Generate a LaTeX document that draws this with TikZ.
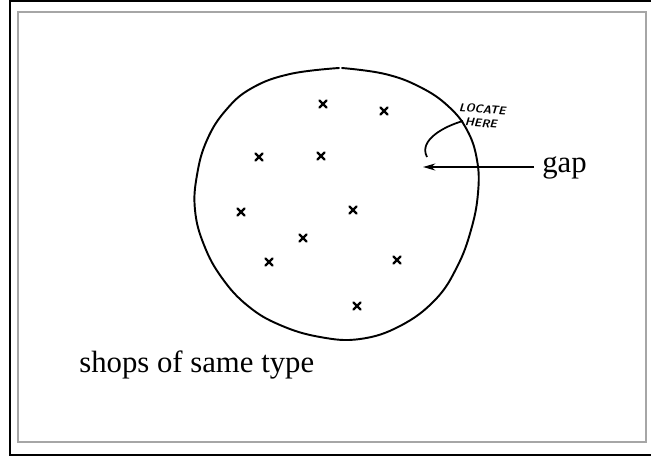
\documentclass[tikz,border=0pt]{standalone}
\usepackage{fontspec}
\setmainfont{Liberation Serif}
\usetikzlibrary{arrows.meta}

\begin{document}
\begin{tikzpicture}[x=0.02cm, y=-0.02cm, >={Stealth[length=7pt,width=4pt]},
    shop/.style={line width=1.3pt, line cap=round},
    label/.style={inner sep=0pt, font=\fontsize{17.5}{20}\selectfont}]

    % =================================================================
    % 1. KHUNG HINH
    % =================================================================
    \useasboundingbox (0,0) rectangle (651,459);
    \fill[white] (0,0) rectangle (651,459);
    \draw[line width=1.6pt] (660,1) -- (10,1) -- (10,455) -- (660,455);
    \draw[line width=1.1pt, gray!70] (18,12) rectangle (646,442);

    % =================================================================
    % 2. VUNG CUA HANG (DUONG VE TAY)
    % =================================================================
    \draw[line width=1.1pt, line cap=round] plot[smooth, tension=0.7] coordinates {
        (342,68) (385,74) (420,87) (448,106) (467,130) (477,160)
        (478,193) (471,230) (457,267) (435,300) (400,326) (360,339)
        (320,337) (280,325) (248,306) (222,278) (204,245) (195,210)
        (197,175) (207,140) (226,110) (252,88) (290,74) (339,68)};

    % Cac cua hang cung loai
    \foreach \x/\y in {323/104, 384/111, 259/157, 321/156, 241/212,
                       353/210, 303/238, 269/262, 397/260, 357/306} {
        \draw[shop] ({\x-3.5},{\y-3.5}) -- ({\x+3.5},{\y+3.5})
                    ({\x-3.5},{\y+3.5}) -- ({\x+3.5},{\y-3.5});
    }

    % =================================================================
    % 3. CHO TRONG VA GHI CHU
    % =================================================================
    \coordinate (tip) at (423,167);
    \coordinate (hookA) at (463,121);
    \coordinate (hookB) at (427,157);

    \node[label, anchor=base west] (gap) at (542,173) {gap};
    \draw[->, line width=1pt, shorten <=4.5pt] (gap.west |- tip) -- (tip);

    \node[inner sep=0pt, align=left, rotate=-4,
          font=\fontsize{6.5}{8}\sffamily\bfseries\itshape] (note) at (482,116)
          {LOCATE\\\hspace*{4pt}HERE};
    \draw[line width=1pt] (hookA) .. controls (445,126) and (418,140) .. (hookB);

    \node[label, anchor=base west] (shops) at (79,372) {shops of same type};

\end{tikzpicture}
\end{document}
